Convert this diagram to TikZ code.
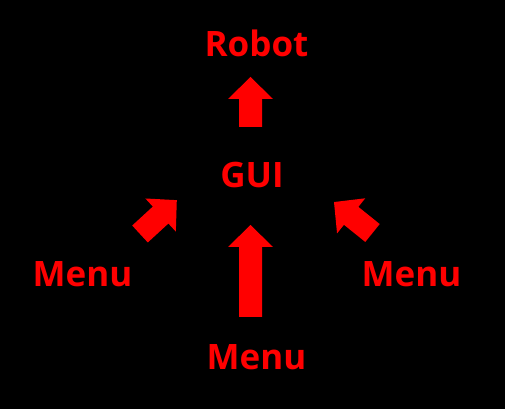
\documentclass[tikz,border=0pt]{standalone}
\usepackage{fontspec}
\setmainfont{Open Sans}
\begin{document}
\begin{tikzpicture}[x=1pt,y=1pt,
  lbl/.style={text=red,font=\fontsize{35}{40}\selectfont\bfseries,anchor=base,inner sep=0pt},
  arr/.style={fill=red}]
\fill[black] (0,0) rectangle (505,409);
\useasboundingbox (0,0) rectangle (505,409);
\newcommand\blkarrow[4]{%
  \begin{scope}[shift={(#1,#2)},rotate=#3]
    \fill[red] (-11.5,0) -- (11.5,0) -- (11.5,#4-22) -- (22.5,#4-22) -- (0,#4) -- (-22.5,#4-22) -- (-11.5,#4-22) -- cycle;
  \end{scope}}
\node[lbl] (robot) at (256.5,352) {Robot};
\node[lbl] (gui) at (252,221) {GUI};
\node[lbl] (menuL) at (82.5,122) {Menu};
\node[lbl] (menuR) at (411.5,122) {Menu};
\node[lbl] (menuB) at (256.5,40) {Menu};
\blkarrow{250.5}{282}{0}{50}
\blkarrow{250.5}{92}{0}{92}
\blkarrow{140}{175}{-47.4}{50}
\blkarrow{372.5}{176}{51.2}{49.4}
\end{tikzpicture}
\end{document}
